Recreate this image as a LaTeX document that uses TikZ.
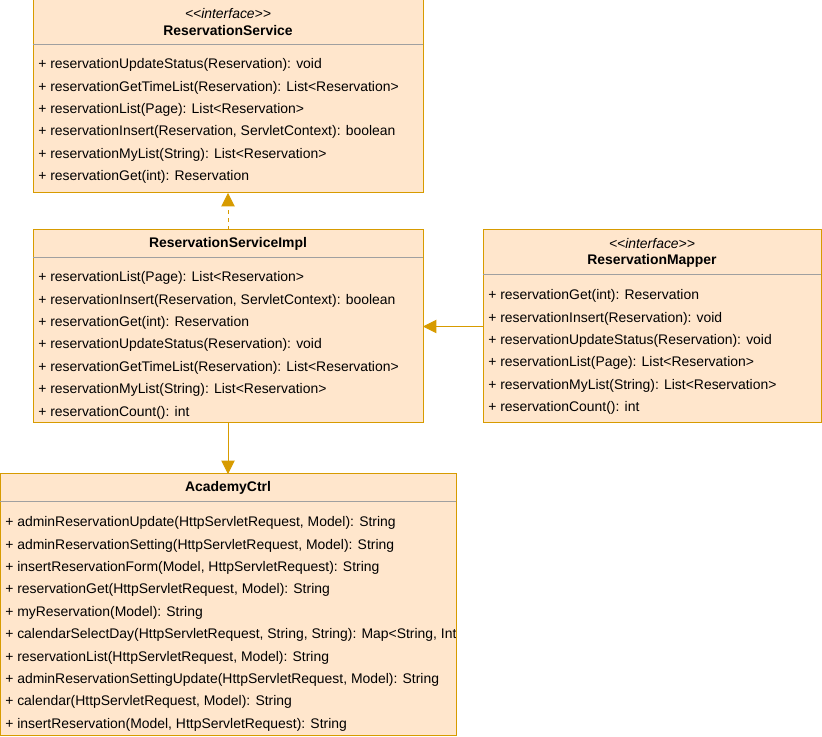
\documentclass[tikz,border=0pt]{standalone}
\usepackage{fontspec}
\setmainfont{Liberation Sans}
\usetikzlibrary{arrows.meta}

\definecolor{umlfill}{HTML}{FFE6CC}
\definecolor{umlline}{HTML}{D79B00}
\definecolor{sepline}{HTML}{A0A0A0}

\tikzset{
	classbox/.style={draw=umlline, fill=umlfill, line width=0.75pt, anchor=north west, inner sep=0pt, outer sep=0pt},
	member/.style={anchor=west, inner sep=0pt, yshift=-1.6pt, font=\fontsize{10.45}{12}\selectfont},
	classname/.style={inner sep=0pt, yshift=-1.5pt, font=\fontsize{10.45}{12}\selectfont\bfseries},
	stereo/.style={inner sep=0pt, yshift=-1.2pt, font=\fontsize{10.45}{12}\selectfont\itshape},
	link/.style={draw=umlline, line width=0.75pt, -{Triangle[width=10pt,length=10pt]}}
}

\begin{document}
\begin{tikzpicture}[x=0.75pt, y=-0.75pt]

	\useasboundingbox (0,0) rectangle (822,737);

	% ReservationService
	\node[classbox, minimum width=292.5pt, minimum height=144.75pt] (svc) at (33,0) {};
	\node[stereo] (svcst) at (228,12) {<{}<interface>{}>};
	\node[classname] (svcname) at (228,29) {ReservationService};
	\draw[sepline, line width=0.75pt] (33,45) -- (423,45);
	\foreach \txt [count=\i] in {
		{+ reservationUpdateStatus(Reservation): void},
		{+ reservationGetTimeList(Reservation): List<Reservation>},
		{+ reservationList(Page): List<Reservation>},
		{+ reservationInsert(Reservation, ServletContext): boolean},
		{+ reservationMyList(String): List<Reservation>},
		{+ reservationGet(int): Reservation}}
		\node[member] (svcm\i) at (38,{63+22.4*(\i-1)}) {\txt};

	% ReservationServiceImpl
	\node[classbox, minimum width=292.5pt, minimum height=144.75pt] (impl) at (33,230) {};
	\node[classname] (implname) at (228,242) {ReservationServiceImpl};
	\draw[sepline, line width=0.75pt] (33,258) -- (423,258);
	\foreach \txt [count=\i] in {
		{+ reservationList(Page): List<Reservation>},
		{+ reservationInsert(Reservation, ServletContext): boolean},
		{+ reservationGet(int): Reservation},
		{+ reservationUpdateStatus(Reservation): void},
		{+ reservationGetTimeList(Reservation): List<Reservation>},
		{+ reservationMyList(String): List<Reservation>},
		{+ reservationCount(): int}}
		\node[member] (implm\i) at (38,{276+22.4*(\i-1)}) {\txt};

	% ReservationMapper
	\node[classbox, minimum width=253.5pt, minimum height=144.75pt] (mapper) at (483,230) {};
	\node[stereo] (mapst) at (652,242) {<{}<interface>{}>};
	\node[classname] (mapname) at (652,259) {ReservationMapper};
	\draw[sepline, line width=0.75pt] (483,275) -- (821,275);
	\foreach \txt [count=\i] in {
		{+ reservationGet(int): Reservation},
		{+ reservationInsert(Reservation): void},
		{+ reservationUpdateStatus(Reservation): void},
		{+ reservationList(Page): List<Reservation>},
		{+ reservationMyList(String): List<Reservation>},
		{+ reservationCount(): int}}
		\node[member] (mapm\i) at (488,{294+22.4*(\i-1)}) {\txt};

	% AcademyCtrl
	\node[classbox, minimum width=342pt, minimum height=196.5pt] (ctrl) at (0,474) {};
	\node[classname] (ctrlname) at (228,486) {AcademyCtrl};
	\draw[sepline, line width=0.75pt] (0,502) -- (456,502);
	\begin{scope}
		\clip (0,474) rectangle (456,737);
		\foreach \txt [count=\i] in {
			{+ adminReservationUpdate(HttpServletRequest, Model): String},
			{+ adminReservationSetting(HttpServletRequest, Model): String},
			{+ insertReservationForm(Model, HttpServletRequest): String},
			{+ reservationGet(HttpServletRequest, Model): String},
			{+ myReservation(Model): String},
			{+ calendarSelectDay(HttpServletRequest, String, String): Map<String, Integer>},
			{+ reservationList(HttpServletRequest, Model): String},
			{+ adminReservationSettingUpdate(HttpServletRequest, Model): String},
			{+ calendar(HttpServletRequest, Model): String},
			{+ insertReservation(Model, HttpServletRequest): String}}
			\node[member] (ctrlm\i) at (5,{521+22.4*(\i-1)}) {\txt};
	\end{scope}
	\draw[umlline, line width=0.75pt] (ctrl.north east) -- (ctrl.south east);

	% relations
	\draw[link, dash pattern=on 3pt off 3pt] (impl.north) -- (svc.south);
	\draw[link] (mapper.west) -- (impl.east);
	\draw[link] (impl.south) -- (ctrl.north);

\end{tikzpicture}
\end{document}
